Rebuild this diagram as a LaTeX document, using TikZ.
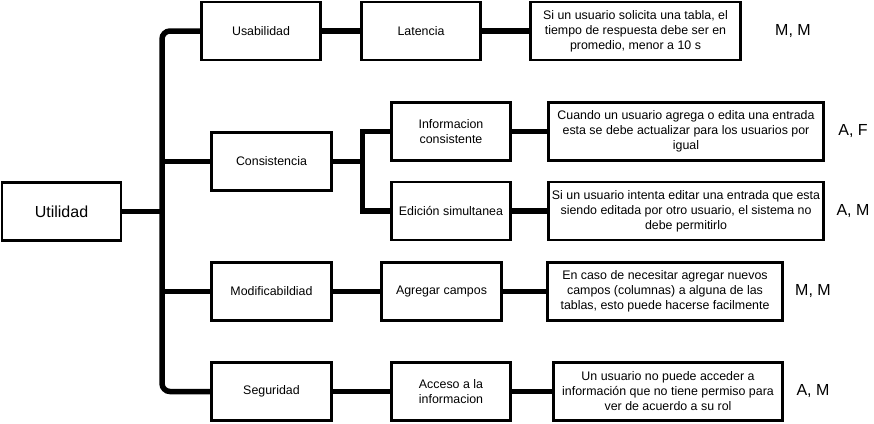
\documentclass[tikz,border=0pt]{standalone}
\usepackage{fontspec}
\setmainfont{Liberation Sans}

\begin{document}
\begin{tikzpicture}[x=1pt, y=-1pt,
    caja/.style={draw, line width=2.8pt, minimum height=58pt, align=center,
      inner sep=2pt, font=\fontsize{12.4}{15}\selectfont},
    rama/.style={line width=5.5pt},
    prio/.style={font=\fontsize{16}{19}\selectfont}]
	  \useasboundingbox (0,0) rectangle (874,423);
	  % raiz
	  \node[caja, minimum width=119pt, minimum height=58pt,
	    font=\fontsize{16}{19}\selectfont] (util) at (61.5,211.5) {Utilidad};
	  % atributos
	  \node[caja, minimum width=119pt] (usab) at (261,31) {Usabilidad};
	  \node[caja, minimum width=120pt] (cons) at (271.5,161.5) {Consistencia};
	  \node[caja, minimum width=120pt] (modi) at (271.5,291.5) {Modificabildiad};
	  \node[caja, minimum width=120pt] (segu) at (271.5,391.5) {Seguridad};
	  % refinamientos
	  \node[caja, minimum width=119pt] (late) at (421,31) {Latencia};
	  \node[caja, minimum width=119pt] (info) at (451,131.5) {Informacion\\consistente};
	  \node[caja, minimum width=119pt] (edic) at (451,211) {Edición simultanea};
	  \node[caja, minimum width=120pt] (agre) at (441.5,291.5) {Agregar campos};
	  \node[caja, minimum width=119pt] (acce) at (451,391.5) {Acceso a la\\informacion};
	  % escenarios
	  \node[caja, minimum width=210pt] (latd) at (635.5,31)
	    {Si un usuario solicita una tabla, el\\tiempo de respuesta debe ser en\\promedio, menor a 10 s};
	  \node[caja, minimum width=275pt] (infd) at (686,131.5)
	    {Cuando un usuario agrega o edita una entrada\\esta se debe actualizar para los usuarios por\\igual};
	  \node[caja, minimum width=275pt] (edid) at (686,211)
	    {Si un usuario intenta editar una entrada que esta\\siendo editada por otro usuario, el sistema no\\debe permitirlo};
	  \node[caja, minimum width=235pt] (agrd) at (665,291.5)
	    {En caso de necesitar agregar nuevos\\campos (columnas) a alguna de las\\tablas, esto puede hacerse facilmente};
	  \node[caja, minimum width=229pt] (accd) at (668,391.5)
	    {Un usuario no puede acceder a\\información que no tiene permiso para\\ver de acuerdo a su rol};
	  % prioridades
	  \node[prio] (p1) at (793,31) {M, M};
	  \node[prio] (p2) at (853,131) {A, F};
	  \node[prio] (p3) at (853,211) {A, M};
	  \node[prio] (p4) at (813,291) {M, M};
	  \node[prio] (p5) at (813,391) {A, M};

	  % tronco
	  \coordinate (tbot) at (162,391.5);
	  \draw[rama, rounded corners=8pt] (usab.west) -| (tbot) -- (segu.west);
	  \draw[rama] (util.east) -- (util.east -| tbot);
	  \draw[rama] (cons.west) -- (cons.west -| tbot);
	  \draw[rama] (modi.west) -- (modi.west -| tbot);
	  % ramas
	  \coordinate (cjoin) at (362.5,161.5);
	  \draw[rama] (cons.east) -- (cjoin);
	  \draw[rama] (info.west) -| (cjoin) |- (edic.west);
	  \draw[rama] (usab.east) -- (late.west);
	  \draw[rama] (modi.east) -- (agre.west);
	  \draw[rama] (segu.east) -- (acce.west);
	  \draw[rama] (late.east) -- (latd.west);
	  \draw[rama] (info.east) -- (infd.west);
	  \draw[rama] (edic.east) -- (edid.west);
	  \draw[rama] (agre.east) -- (agrd.west);
	  \draw[rama] (acce.east) -- (accd.west);
	\end{tikzpicture}
\end{document}
